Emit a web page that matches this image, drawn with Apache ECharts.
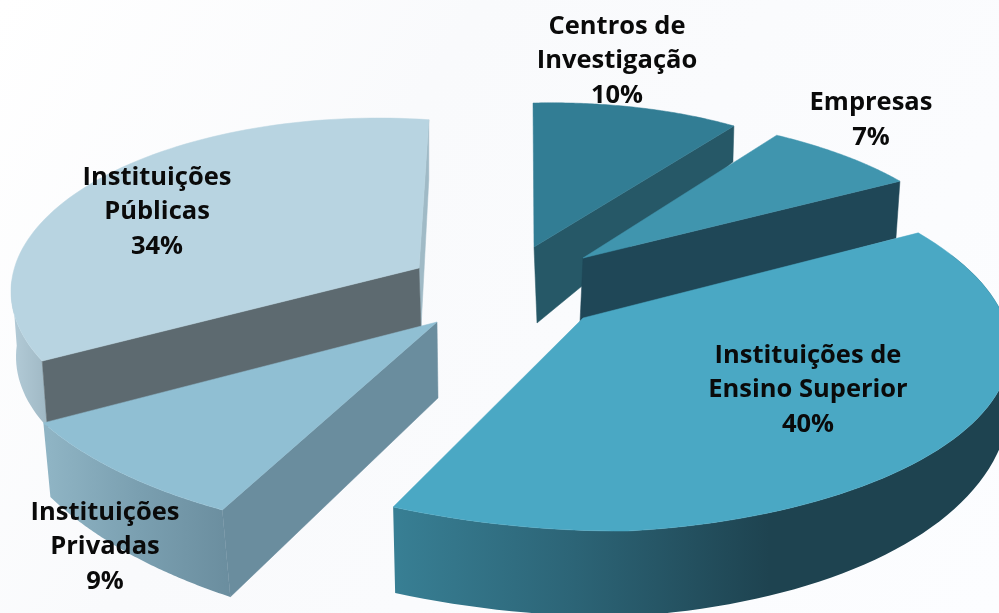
<!DOCTYPE html>
<html><head><meta charset="utf-8">
<script src="https://cdn.jsdelivr.net/npm/echarts@6/dist/echarts.min.js"></script>
<style>html,body{margin:0;padding:0;background:#fff}#c{width:999px;height:613px}</style>
</head><body><div id="c"></div>
<script>
// chart values, clockwise from the top of the pie
const categories = ['Centros de\nInvestigação', 'Empresas', 'Instituições de\nEnsino Superior', 'Instituições\nPrivadas', 'Instituições\nPúblicas'];
const shares = [10, 7, 40, 9, 34];
const drawOrder = [4, 3, 0, 1, 2];

// projection of each exploded slice: apex, ellipse centre, ellipse axes
const apexes = [[534,247],[583,258],[583,318],[437,322],[419,268]];
const centres = [[534,247],[583,258],[537,324],[437,322],[375,290]];
const axisU = [[341.5,-7.7],[383,-7],[469,9.7],[450,17.5],[360,23.9]];
const axisV = [[-1,-144],[-38.8,-146.7],[-61.7,-206.8],[25.5,-215.9],[53.8,-170.3]];
const rimDent = [null,null,[0,0.8,14],null,null];
const topColors = ['#327d94','#4095ae','#4aa8c4','#90bfd3','#b8d4e1'];
const labelPos = [[617,61],[871,120],[808,390],[105,547],[157,212]];
const walls = [
  [{edge:'end', a:[3,76], r:[-1,36], fill:'#265867'}],
  [{edge:'end', a:[-3,64], r:[-4,57], fill:'#1f4757'}],
  [{edge:'rim', from:0, to:1, d0:[0,0], d1:[2,86], ease:0.05,
    grad:[394,999,[[0,'#387f94'],[0.3,'#2c6476'],[0.62,'#1e4350'],[1,'#1e4350']]]}],
  [{edge:'rim', from:0, to:1, d0:[8,87], d1:[7,74],
    grad:[48,232,[[0,'#8fb4c4'],[0.5,'#7a9fb0'],[1,'#6a8d9e']]]},
   {edge:'start', a:[1,76], r:[8,87], fill:'#6a8d9e'}],
  [{edge:'rim', from:0, to:0.22, d0:[5,66], d1:[5,62],
    grad:[10,48,[[0,'#b4ccd8'],[1,'#9fb8c4']]]},
   {edge:'end', a:[2,60], r:[0,60], fill:'#a0bac6'},
   {edge:'start', a:[2,60], r:[5,66], fill:'#5d6a70'}]
];

const total = shares.reduce((a,b)=>a+b,0);
const starts = [];
shares.reduce((acc,v,i)=>{starts[i]=acc;return acc+v/total*360;},0);

function rimPoint(i, deg, f){
  const t = deg*Math.PI/180, s = Math.sin(t), c = Math.cos(t);
  let dent = 0;
  const dn = rimDent[i];
  if(dn && f>dn[0] && f<dn[1]) dent = dn[2]*Math.sin(Math.PI*(f-dn[0])/(dn[1]-dn[0]));
  return [centres[i][0]+axisU[i][0]*s+axisV[i][0]*c, centres[i][1]+axisU[i][1]*s+axisV[i][1]*c-dent];
}
function add(p,d){return [p[0]+d[0],p[1]+d[1]];}
function depthAt(w,f){
  let g = f;
  if(w.ease!==undefined){
    const h = Math.max(0,(f-w.ease)/(1-w.ease));
    g = 1-Math.pow(1-h,3);
  }
  return [w.d0[0]+(w.d1[0]-w.d0[0])*g, w.d0[1]+(w.d1[1]-w.d0[1])*g];
}

function renderSlice(params, api){
  const i = api.value(0), share = api.value(1);
  const a0 = starts[i], a1 = a0 + share/total*360;
  const apex = apexes[i], N = 80, rim = [];
  for(let k=0;k<=N;k++) rim.push(rimPoint(i, a0+(a1-a0)*k/N, k/N));
  const children = [];
  walls[i].forEach(w=>{
    let pts;
    if(w.edge==='rim'){
      const lo = Math.round(w.from*N), hi = Math.round(w.to*N);
      const top = rim.slice(lo,hi+1), bottom = [];
      for(let k=hi;k>=lo;k--) bottom.push(add(rim[k],depthAt(w,k/N)));
      pts = top.concat(bottom);
    } else {
      const edgePt = w.edge==='start' ? rim[0] : rim[N];
      pts = [apex, edgePt, add(edgePt,w.r), add(apex,w.a)];
    }
    const fill = w.grad ? {type:'linear',global:true,x:w.grad[0],y:0,x2:w.grad[1],y2:0,
      colorStops:w.grad[2].map(s=>({offset:s[0],color:s[1]}))} : w.fill;
    children.push({type:'polygon',shape:{points:pts},style:{fill:fill,stroke:w.grad?null:fill,lineWidth:0.5}});
  });
  children.push({type:'polygon',shape:{points:[apex].concat(rim)},style:{fill:topColors[i],stroke:topColors[i],lineWidth:0.5}});
  children.push({type:'text',z2:100,style:{
    x:labelPos[i][0],y:labelPos[i][1],
    text:categories[i]+'\n'+share+'%',
    align:'center',verticalAlign:'middle',
    font:'bold 25.5px "Open Sans"',lineHeight:34.5,fill:'#0a0a0a'}});
  return {type:'group',children};
}

const chart = echarts.init(document.getElementById('c'));
chart.setOption({
  animation:false,
  backgroundColor:{type:'linear',x:0,y:0,x2:1,y2:1,colorStops:[{offset:0,color:'#ffffff'},{offset:0.35,color:'#f9fafc'},{offset:1,color:'#fcfdff'}]},
  series:[{type:'custom',coordinateSystem:'none',silent:true,renderItem:renderSlice,
    data:drawOrder.map(i=>({name:categories[i],value:[i,shares[i]]}))}]
});
</script></body></html>
